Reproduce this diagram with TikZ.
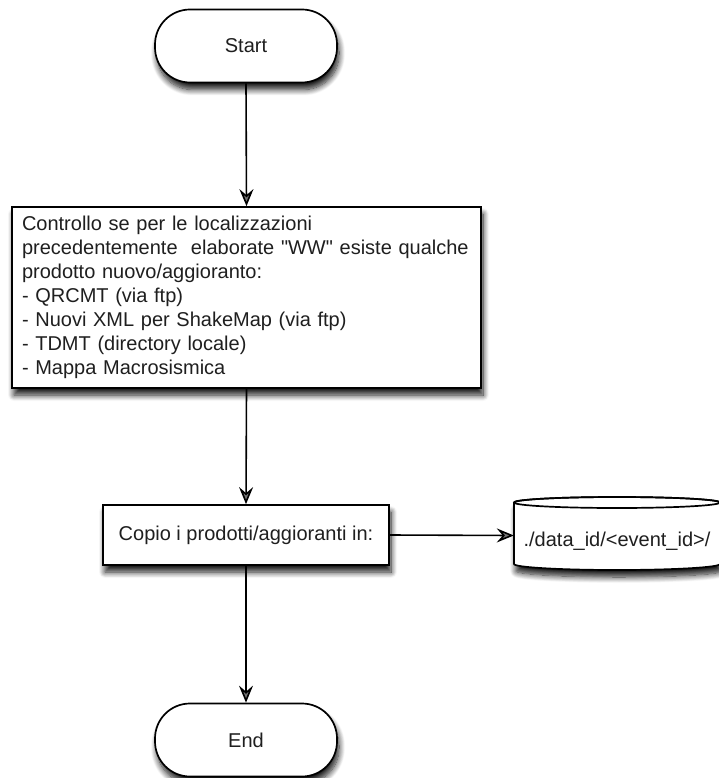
\documentclass[tikz,border=0pt]{standalone}
\usepackage{fontspec}
\setmainfont{Liberation Sans}[Ligatures=TeXOff]
\usetikzlibrary{arrows.meta,shadows.blur}
\begin{document}
\begin{tikzpicture}[x=1pt,y=-1pt,
  every node/.style={font=\fontsize{20}{24}\selectfont, text=black!88},
  box/.style={draw=black, line width=1.7pt, fill=white,
    blur shadow={shadow xshift=2pt, shadow yshift=-7pt, shadow blur radius=6pt, shadow blur steps=10, shadow opacity=90}},
  term/.style={box, rounded corners=35pt, minimum width=182pt, minimum height=73pt, inner sep=0pt},
  flow/.style={line width=1.6pt, -{Stealth[length=17pt,width=14pt,inset=6pt]}}
]
\useasboundingbox (0,0) rectangle (718,778);

\node[term] (start) at (246,46) {Start};

\node[box, text width=449pt, inner xsep=10pt, inner ysep=0pt, minimum height=181pt, align=left] (proc) at (246.5,297.5)
 {Controllo se per le localizzazioni\\
  precedentemente\ \ elaborate "WW" esiste qualche\\
  prodotto nuovo/aggioranto:\\
  - QRCMT (via ftp)\\
  - Nuovi XML per ShakeMap (via ftp)\\
  - TDMT (directory locale)\\
  - Mappa Macrosismica};

\node[box, minimum width=286pt, minimum height=60pt, inner sep=0pt] (copy) at (246,535) {Copio i prodotti/aggioranti in:};

% database cylinder
\node[inner sep=0pt, minimum width=206pt, minimum height=67pt] (db) at (617,535.5) {};
\path[box] (514,502.5) -- (514,564) arc[start angle=180,end angle=0,x radius=103,y radius=6]
  -- (720,502.5) arc[start angle=0,end angle=-180,x radius=103,y radius=5.5] -- cycle;
\draw[line width=1.7pt] (617,502.5) ellipse [x radius=103, y radius=5.5];
\node (dbtext) at (617,541) {./data\_id/<event\_id>/};

\node[term] (end) at (246,740) {End};

\draw[flow] (start.south) -- (proc.north);
\draw[flow] (proc.south) -- (copy.north);
\draw[flow] (copy.east) -- (db.west);
\draw[flow] (copy.south) -- (end.north);
\end{tikzpicture}
\end{document}
